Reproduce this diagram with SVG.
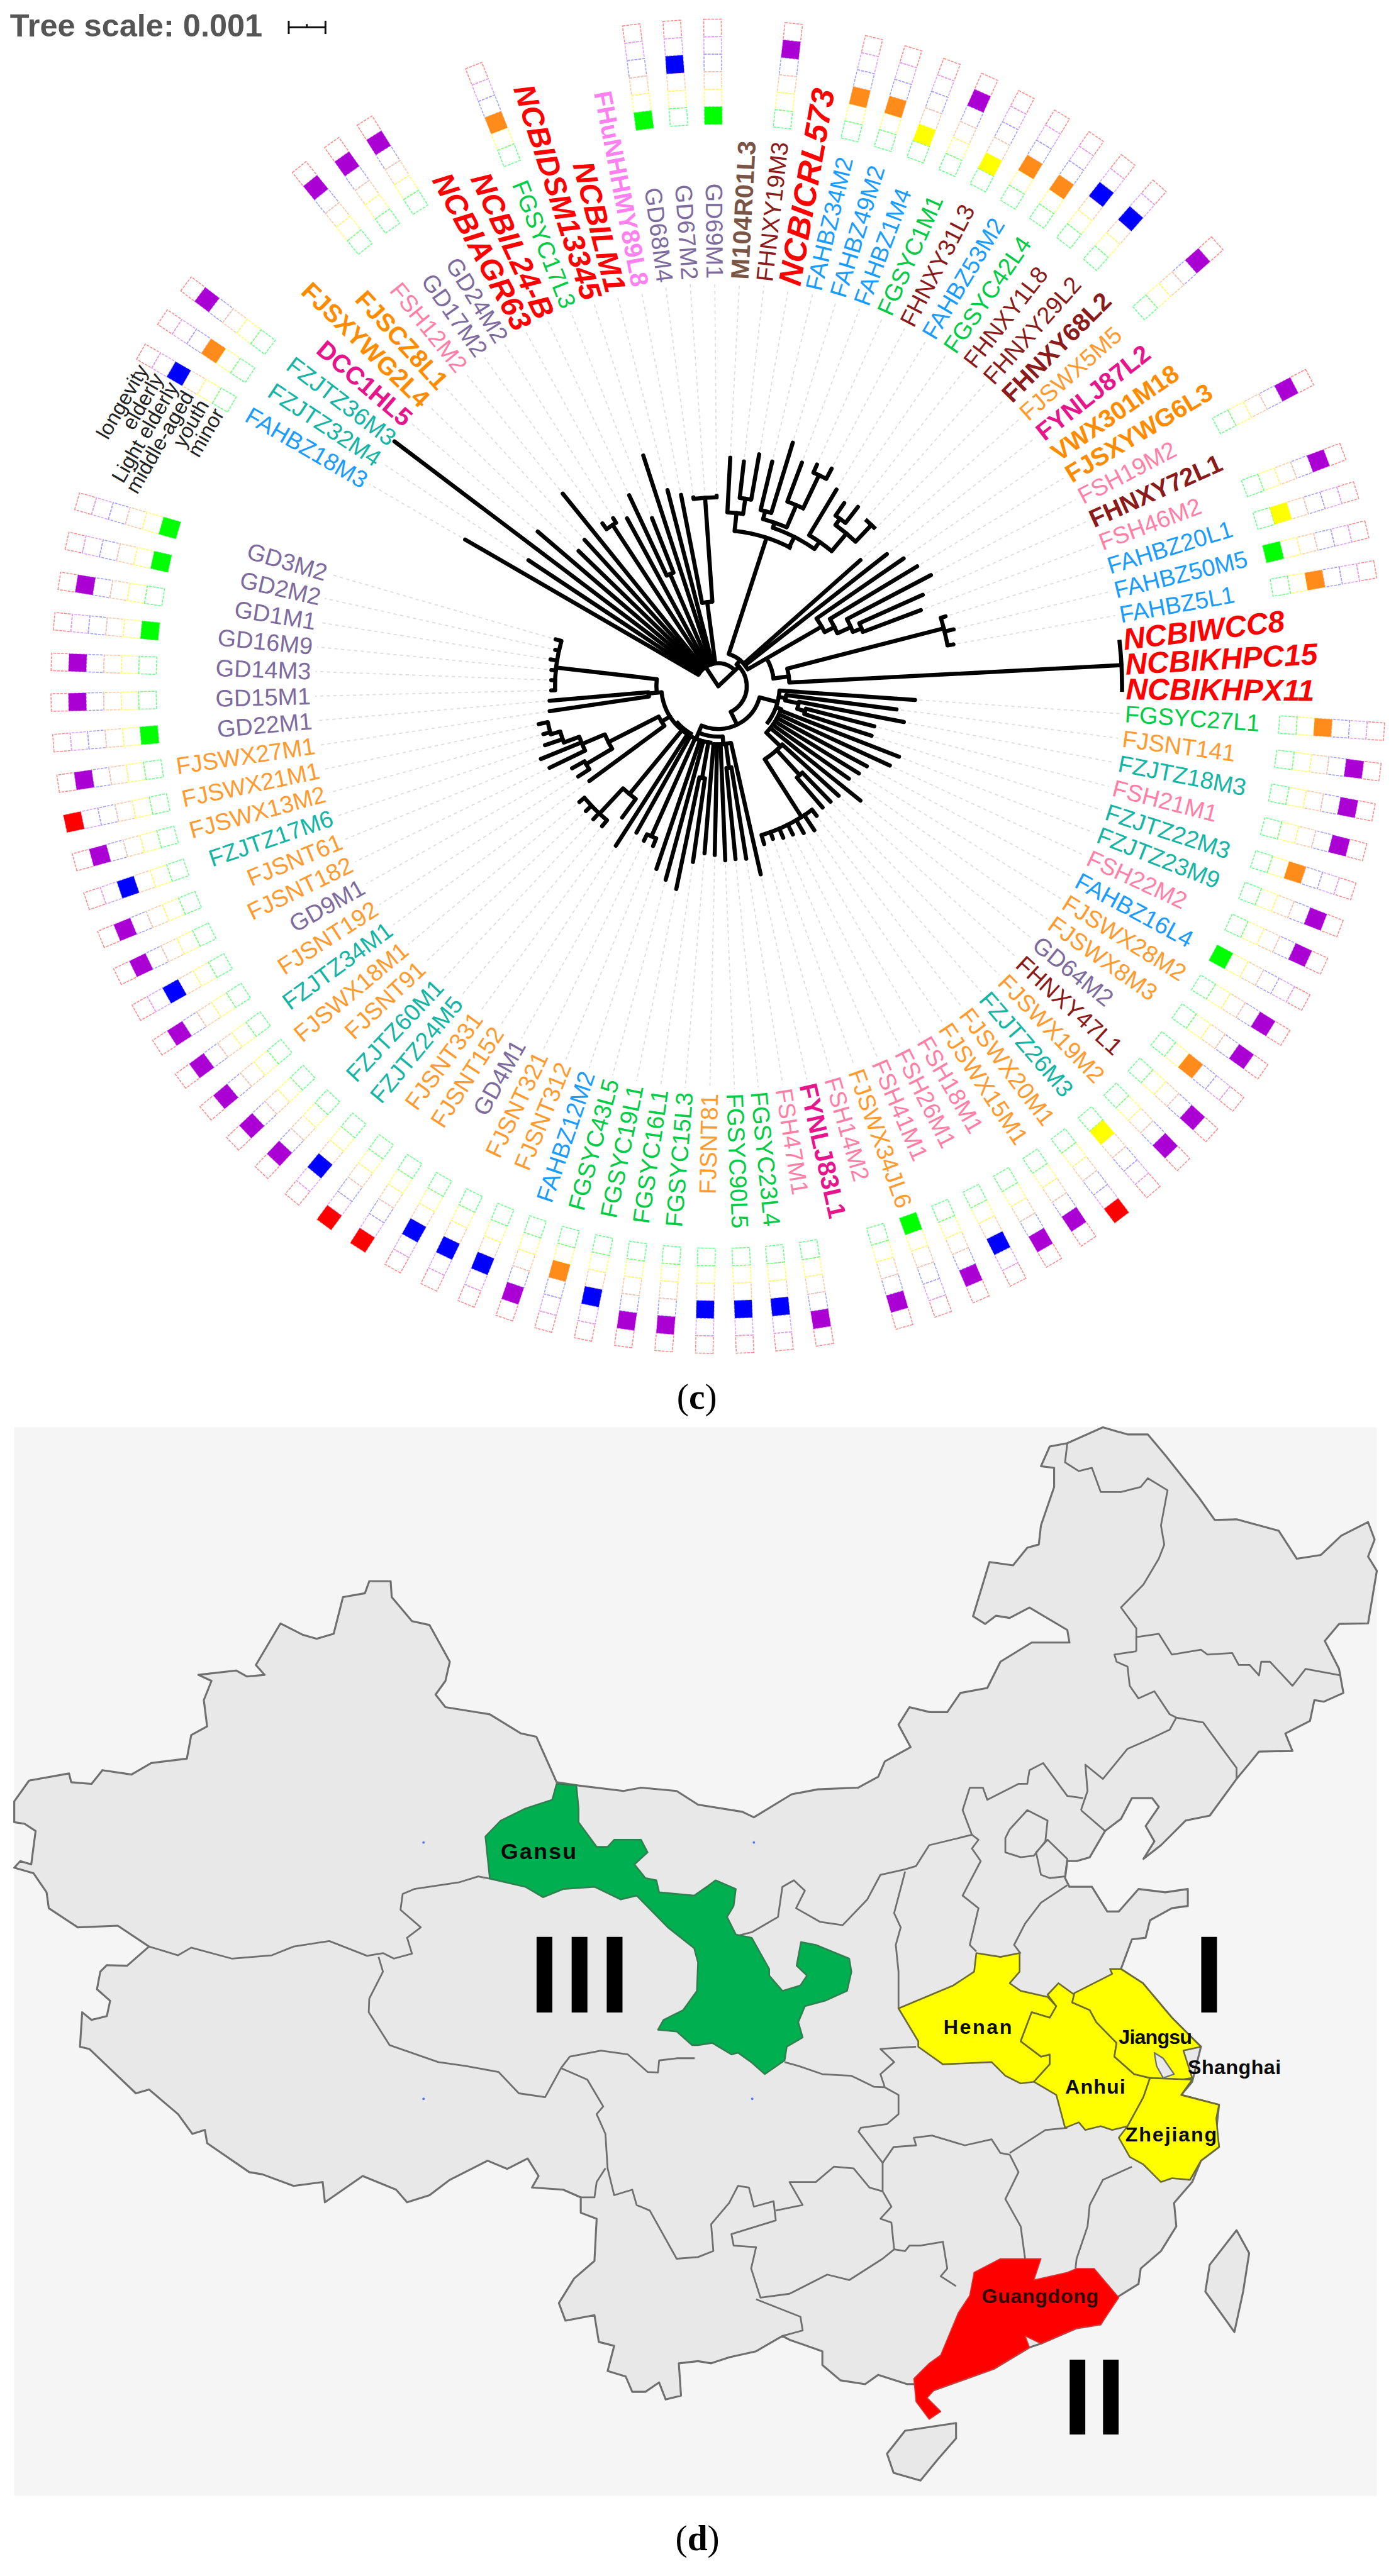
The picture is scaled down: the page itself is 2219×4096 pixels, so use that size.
<svg xmlns="http://www.w3.org/2000/svg" width="2219" height="4096" viewBox="0 0 2219 4096">
<style>
text{font-family:"Liberation Sans",Arial,sans-serif}
.lb text{font-size:43.5px;dominant-baseline:central}
.R{text-anchor:start}.L{text-anchor:end}
.g{fill:#7d6b9e}.o{fill:#ff9a2e}.t{fill:#14b5a5}.p{fill:#ff7fa6}.b{fill:#1a9cff}.n{fill:#00cc44}.d{fill:#8b1a1a}
.m{fill:#e6158c}.h{fill:#ff8c00}.f{fill:#ff80f0}.w{fill:#7a5545}
.lb text.B{font-weight:700;font-size:46px}
.lb text.N{font-weight:700;font-style:italic;font-size:55px;fill:#ff0000}
.lb text.leg{font-size:38px;fill:#222;text-anchor:end}
.c{fill:none;stroke-width:1.8;stroke-dasharray:5 2}
.c0{stroke:#66ff88}.c1{stroke:#ffff66}.c2{stroke:#ffc8a0}.c3{stroke:#a0a0ff}.c4{stroke:#e0a0ff}.c5{stroke:#ff8888}
.ray path{fill:none;stroke:#dcdcdc;stroke-width:2;stroke-dasharray:6 6}
.tree path,.tree circle{fill:none;stroke:#000;stroke-width:7.5;stroke-linecap:round;stroke-linejoin:round}
.tree circle{stroke-linecap:butt}
.prov{fill:#e8e8e8;stroke:#6f6f6f;stroke-width:3.6;stroke-linejoin:round}
.bd{fill:none;stroke:#6f6f6f;stroke-width:3.2;stroke-linejoin:round}
.yl{fill:#ffff00;stroke:#6b6b30;stroke-width:3;stroke-linejoin:round}
.pl{font-weight:700;font-size:37px;fill:#0a0a0a}
.num{font-weight:700;fill:#000}
.cap{font-family:"Liberation Serif","Times New Roman",serif;font-size:66px;fill:#000;text-anchor:middle}
</style>
<defs>
<g id="s">
<rect class="c c5" x="-16" y="-1218" width="32" height="32"/><rect class="c c4" x="-16" y="-1186" width="32" height="32"/><rect class="c c3" x="-16" y="-1154" width="32" height="32"/><rect class="c c2" x="-16" y="-1122" width="32" height="32"/><rect class="c c1" x="-16" y="-1090" width="32" height="32"/><rect class="c c0" x="-16" y="-1058" width="32" height="32"/>
</g>
<g id="s0"><use href="#s"/><rect x="-16" y="-1058" width="32" height="32" fill="#00ff00"/></g>
<g id="s1"><use href="#s"/><rect x="-16" y="-1090" width="32" height="32" fill="#ffff00"/></g>
<g id="s2"><use href="#s"/><rect x="-16" y="-1122" width="32" height="32" fill="#ff8c1a"/></g>
<g id="s3"><use href="#s"/><rect x="-16" y="-1154" width="32" height="32" fill="#0000ff"/></g>
<g id="s4"><use href="#s"/><rect x="-16" y="-1186" width="32" height="32" fill="#aa00d4"/></g>
<g id="s5"><use href="#s"/><rect x="-16" y="-1218" width="32" height="32" fill="#ff0000"/></g>
</defs>
<rect width="2219" height="4096" fill="#fff"/>
<g transform="scale(0.87088)">
<g id="scale">
<text x="18" y="67" font-size="58" font-weight="700" fill="#555">Tree scale: 0.001</text>
<path d="M527 38V62M594 38V62M527 50H594M560 44V50" fill="none" stroke="#111" stroke-width="3.4"/>
</g>
<g id="connectors" transform="translate(1311 1253)">
<g class="ray">
<path transform="rotate(-.5)" d="M0-356V-736"/><path transform="rotate(3)" d="M0-426V-736"/><path transform="rotate(6.5)" d="M0-421V-736"/><path transform="rotate(10)" d="M0-438V-736"/><path transform="rotate(13.5)" d="M0-430V-736"/><path transform="rotate(17)" d="M0-473V-736"/><path transform="rotate(20.5)" d="M0-444V-736"/><path transform="rotate(24)" d="M0-451V-736"/><path transform="rotate(27.5)" d="M0-456V-736"/><path transform="rotate(31)" d="M0-427V-736"/><path transform="rotate(34.5)" d="M0-414V-736"/><path transform="rotate(37.9)" d="M0-423V-736"/><path transform="rotate(41.4)" d="M0-417V-736"/><path transform="rotate(44.9)" d="M0-416V-736"/><path transform="rotate(48.4)" d="M0-355V-736"/><path transform="rotate(51.9)" d="M0-399V-736"/><path transform="rotate(55.4)" d="M0-419V-736"/><path transform="rotate(58.9)" d="M0-432V-736"/><path transform="rotate(62.4)" d="M0-446V-736"/><path transform="rotate(65.9)" d="M0-417V-736"/><path transform="rotate(69.4)" d="M0-403V-736"/><path transform="rotate(72.9)" d="M0-442V-736"/><path transform="rotate(76.4)" d="M0-450V-736"/><path transform="rotate(79.9)" d="M0-444V-736"/>
<path transform="rotate(93.9)" d="M0-368V-736"/><path transform="rotate(97.4)" d="M0-336V-736"/><path transform="rotate(100.9)" d="M0-353V-736"/><path transform="rotate(104.4)" d="M0-302V-736"/><path transform="rotate(107.9)" d="M0-302V-736"/><path transform="rotate(111.3)" d="M0-362V-736"/><path transform="rotate(114.8)" d="M0-353V-736"/><path transform="rotate(118.3)" d="M0-316V-736"/><path transform="rotate(121.8)" d="M0-310V-736"/><path transform="rotate(125.3)" d="M0-300V-736"/><path transform="rotate(128.8)" d="M0-341V-736"/><path transform="rotate(132.3)" d="M0-305V-736"/><path transform="rotate(135.8)" d="M0-302V-736"/><path transform="rotate(139.3)" d="M0-300V-736"/><path transform="rotate(142.8)" d="M0-305V-736"/><path transform="rotate(146.3)" d="M0-324V-736"/><path transform="rotate(149.8)" d="M0-318V-736"/><path transform="rotate(153.3)" d="M0-311V-736"/><path transform="rotate(156.8)" d="M0-309V-736"/><path transform="rotate(160.3)" d="M0-304V-736"/><path transform="rotate(163.8)" d="M0-308V-736"/><path transform="rotate(167.3)" d="M0-360V-736"/><path transform="rotate(170.8)" d="M0-327V-736"/><path transform="rotate(174.3)" d="M0-325V-736"/><path transform="rotate(177.7)" d="M0-326V-736"/><path transform="rotate(181.2)" d="M0-316V-736"/><path transform="rotate(184.7)" d="M0-314V-736"/><path transform="rotate(188.2)" d="M0-332V-736"/><path transform="rotate(191.7)" d="M0-386V-736"/><path transform="rotate(195.2)" d="M0-374V-736"/><path transform="rotate(198.7)" d="M0-360V-736"/><path transform="rotate(202.2)" d="M0-323V-736"/><path transform="rotate(205.7)" d="M0-321V-736"/><path transform="rotate(209.2)" d="M0-314V-736"/><path transform="rotate(212.7)" d="M0-354V-736"/><path transform="rotate(216.2)" d="M0-305V-736"/><path transform="rotate(219.7)" d="M0-340V-736"/><path transform="rotate(223.2)" d="M0-341V-736"/><path transform="rotate(226.7)" d="M0-340V-736"/><path transform="rotate(230.2)" d="M0-338V-736"/><path transform="rotate(233.7)" d="M0-300V-736"/><path transform="rotate(237.2)" d="M0-312V-736"/><path transform="rotate(240.7)" d="M0-314V-736"/><path transform="rotate(244.2)" d="M0-350V-736"/><path transform="rotate(247.7)" d="M0-358V-736"/><path transform="rotate(251.2)" d="M0-342V-736"/><path transform="rotate(254.7)" d="M0-339V-736"/><path transform="rotate(258.1)" d="M0-343V-736"/><path transform="rotate(261.6)" d="M0-319V-736"/><path transform="rotate(265.1)" d="M0-317V-736"/><path transform="rotate(268.6)" d="M0-313V-736"/><path transform="rotate(272.1)" d="M0-313V-736"/><path transform="rotate(275.6)" d="M0-314V-736"/><path transform="rotate(279.1)" d="M0-318V-736"/><path transform="rotate(282.6)" d="M0-313V-736"/><path transform="rotate(286.1)" d="M0-317V-736"/>
<path transform="rotate(300.1)" d="M0-542V-736"/><path transform="rotate(303.6)" d="M0-424V-736"/><path transform="rotate(310.6)" d="M0-442V-736"/><path transform="rotate(314.1)" d="M0-363V-736"/><path transform="rotate(317.6)" d="M0-370V-736"/><path transform="rotate(321.1)" d="M0-460V-736"/><path transform="rotate(324.6)" d="M0-373V-736"/><path transform="rotate(328)" d="M0-370V-736"/><path transform="rotate(331.5)" d="M0-357V-736"/><path transform="rotate(335)" d="M0-393V-736"/><path transform="rotate(338.5)" d="M0-338V-736"/><path transform="rotate(342)" d="M0-451V-736"/><path transform="rotate(345.5)" d="M0-378V-736"/><path transform="rotate(349)" d="M0-364V-736"/><path transform="rotate(352.5)" d="M0-356V-736"/><path transform="rotate(356)" d="M0-358V-736"/>
</g>
<g class="tree">
<path d="M0 0L-23-35M0 0L38-36"/>
<circle r="42" pathLength="360" stroke-dasharray="107 360" transform="rotate(210)"/>
<circle r="52" pathLength="360" stroke-dasharray="114 360" transform="rotate(-50)"/>
<circle r="62" pathLength="360" stroke-dasharray="42 360" transform="rotate(-72)"/>
<path transform="rotate(40)" d="M0-52V-62"/>
<path transform="rotate(18)" d="M0-62V-285"/>
<circle r="285" pathLength="360" stroke-dasharray="22 360" transform="rotate(-84)"/>
<path transform="rotate(6)" d="M0-285V-318"/>
<circle r="318" pathLength="360" stroke-dasharray="5.5 360" transform="rotate(-87)"/>
<path transform="rotate(3)" d="M0-318V-418"/><path transform="rotate(8.2)" d="M0-318V-346"/>
<circle r="346" pathLength="360" stroke-dasharray="3.5 360" transform="rotate(-83.5)"/>
<path transform="rotate(6.5)" d="M0-346V-413"/><path transform="rotate(10)" d="M0-346V-430"/>
<path transform="rotate(27)" d="M0-285V-306"/>
<circle r="306" pathLength="360" stroke-dasharray="16 360" transform="rotate(-71)"/>
<path transform="rotate(19)" d="M0-306V-316"/>
<circle r="316" pathLength="360" stroke-dasharray="8.5 360" transform="rotate(-75)"/>
<path transform="rotate(15)" d="M0-316V-331"/>
<circle r="331" pathLength="360" stroke-dasharray="3.5 360" transform="rotate(-76.5)"/>
<path transform="rotate(13.5)" d="M0-331V-422"/><path transform="rotate(17)" d="M0-331V-465"/>
<path transform="rotate(23.3)" d="M0-316V-360"/>
<circle r="360" pathLength="360" stroke-dasharray="5.5 360" transform="rotate(-69.5)"/>
<path transform="rotate(20.5)" d="M0-360V-436"/><path transform="rotate(25.5)" d="M0-360V-427"/>
<circle r="427" pathLength="360" stroke-dasharray="3.5 360" transform="rotate(-66)"/>
<path transform="rotate(24)" d="M0-427V-443"/><path transform="rotate(27.5)" d="M0-427V-448"/>
<path transform="rotate(35)" d="M0-306V-322"/>
<circle r="322" pathLength="360" stroke-dasharray="9 360" transform="rotate(-59)"/>
<path transform="rotate(31)" d="M0-322V-419"/><path transform="rotate(40)" d="M0-322V-364"/>
<circle r="364" pathLength="360" stroke-dasharray="7.7 360" transform="rotate(-54)"/>
<path transform="rotate(36)" d="M0-364V-378"/>
<circle r="378" pathLength="360" stroke-dasharray="3.4 360" transform="rotate(-55.5)"/>
<path transform="rotate(34.5)" d="M0-378V-406"/><path transform="rotate(37.9)" d="M0-378V-415"/>
<path transform="rotate(43.5)" d="M0-364V-406"/>
<circle r="406" pathLength="360" stroke-dasharray="3.6 360" transform="rotate(-48.6)"/>
<path transform="rotate(48.4)" d="M0-62V-347"/><path transform="rotate(51.9)" d="M0-62V-391"/>
<path transform="rotate(60)" d="M0-62V-218"/>
<circle r="102" pathLength="360" stroke-dasharray="24 360" transform="rotate(-30)"/>
<circle r="218" pathLength="360" stroke-dasharray="7.6 360" transform="rotate(-34.6)"/>
<path transform="rotate(55.4)" d="M0-218V-411"/><path transform="rotate(63)" d="M0-218V-238"/>
<circle r="238" pathLength="360" stroke-dasharray="7 360" transform="rotate(-31)"/>
<path transform="rotate(58.9)" d="M0-238V-424"/><path transform="rotate(66)" d="M0-238V-265"/>
<circle r="265" pathLength="360" stroke-dasharray="5.6 360" transform="rotate(-27.6)"/>
<path transform="rotate(62.4)" d="M0-265V-438"/><path transform="rotate(68)" d="M0-265V-282"/>
<circle r="282" pathLength="360" stroke-dasharray="3.5 360" transform="rotate(-24.1)"/>
<path transform="rotate(65.9)" d="M0-282V-409"/><path transform="rotate(69.4)" d="M0-282V-395"/>
<path transform="rotate(82)" d="M0-102V-130"/>
<circle r="130" pathLength="360" stroke-dasharray="11.4 360" transform="rotate(-14.4)"/>
<path transform="rotate(75.6)" d="M0-130V-425"/>
<circle r="425" pathLength="360" stroke-dasharray="7 360" transform="rotate(-17.1)"/>
<path transform="rotate(72.9)" d="M0-425V-434"/><path transform="rotate(76.4)" d="M0-425V-442"/><path transform="rotate(79.9)" d="M0-425V-436"/>
<path transform="rotate(87)" d="M0-130V-737"/>
<circle r="737" pathLength="360" stroke-dasharray="7.4 360" transform="rotate(-6.6)"/>
<path transform="rotate(154)" d="M0-52V-78"/>
<circle r="78" pathLength="360" stroke-dasharray="98 360" transform="rotate(15)"/>
<path transform="rotate(105)" d="M0-78V-112"/>
<circle r="112" pathLength="360" stroke-dasharray="34 360" transform="rotate(4)"/>
<path transform="rotate(94)" d="M0-112V-360"/>
<path transform="rotate(100)" d="M0-112V-125"/>
<circle r="125" pathLength="360" stroke-dasharray="4.6 360" transform="rotate(7.4)"/>
<path transform="rotate(97.4)" d="M0-125V-328"/><path transform="rotate(102)" d="M0-125V-150"/>
<circle r="150" pathLength="360" stroke-dasharray="5.1 360" transform="rotate(10.9)"/>
<path transform="rotate(100.9)" d="M0-150V-345"/><path transform="rotate(106)" d="M0-150V-165"/>
<circle r="165" pathLength="360" stroke-dasharray="3.5 360" transform="rotate(14.4)"/>
<path transform="rotate(104.4)" d="M0-165V-294"/><path transform="rotate(107.9)" d="M0-165V-294"/>
<path transform="rotate(110)" d="M0-112V-122"/>
<circle r="122" pathLength="360" stroke-dasharray="24 360" transform="rotate(20)"/>
<path transform="rotate(111.3)" d="M0-122V-354"/><path transform="rotate(114.8)" d="M0-122V-345"/><path transform="rotate(118.3)" d="M0-122V-308"/><path transform="rotate(121.8)" d="M0-122V-302"/><path transform="rotate(125.3)" d="M0-122V-292"/><path transform="rotate(128.8)" d="M0-122V-333"/>
<path transform="rotate(134)" d="M0-122V-158"/>
<circle r="158" pathLength="360" stroke-dasharray="15.2 360" transform="rotate(42.3)"/>
<path transform="rotate(132.3)" d="M0-158V-297"/>
<path transform="rotate(137.5)" d="M0-158V-220"/>
<circle r="220" pathLength="360" stroke-dasharray="3.5 360" transform="rotate(45.8)"/>
<path transform="rotate(135.8)" d="M0-220V-294"/><path transform="rotate(139.3)" d="M0-220V-292"/>
<path transform="rotate(147.5)" d="M0-158V-283"/>
<circle r="283" pathLength="360" stroke-dasharray="21 360" transform="rotate(52.8)"/>
<path transform="rotate(142.8)" d="M0-283V-297"/><path transform="rotate(146.3)" d="M0-283V-316"/><path transform="rotate(149.8)" d="M0-283V-310"/><path transform="rotate(153.3)" d="M0-283V-303"/><path transform="rotate(156.8)" d="M0-283V-301"/><path transform="rotate(160.3)" d="M0-283V-296"/><path transform="rotate(163.8)" d="M0-283V-300"/>
<path transform="rotate(203)" d="M0-78V-104"/>
<circle r="92" pathLength="360" stroke-dasharray="28 360" transform="rotate(85)"/>
<path transform="rotate(175)" d="M0-92V-106"/>
<circle r="106" pathLength="360" stroke-dasharray="18 360" transform="rotate(77.3)"/>
<path transform="rotate(167.3)" d="M0-106V-352"/>
<path transform="rotate(172.5)" d="M0-106V-150"/>
<circle r="150" pathLength="360" stroke-dasharray="3.5 360" transform="rotate(80.8)"/>
<path transform="rotate(170.8)" d="M0-150V-319"/><path transform="rotate(174.3)" d="M0-150V-317"/>
<path transform="rotate(177.7)" d="M0-106V-318"/><path transform="rotate(181.2)" d="M0-106V-308"/><path transform="rotate(184.7)" d="M0-106V-306"/>
<circle r="104" pathLength="360" stroke-dasharray="78 360" transform="rotate(96)"/>
<circle r="100" pathLength="360" stroke-dasharray="22 360" transform="rotate(118)"/>
<path transform="rotate(190)" d="M0-104V-170"/>
<circle r="170" pathLength="360" stroke-dasharray="3.5 360" transform="rotate(98.2)"/>
<path transform="rotate(188.2)" d="M0-170V-324"/><path transform="rotate(191.7)" d="M0-170V-378"/>
<path transform="rotate(195.2)" d="M0-104V-366"/><path transform="rotate(198.7)" d="M0-104V-352"/>
<path transform="rotate(204)" d="M0-104V-300"/>
<circle r="300" pathLength="360" stroke-dasharray="3.5 360" transform="rotate(112.2)"/>
<path transform="rotate(202.2)" d="M0-300V-315"/><path transform="rotate(205.7)" d="M0-300V-313"/>
<path transform="rotate(209.2)" d="M0-104V-306"/><path transform="rotate(212.7)" d="M0-104V-346"/>
<path transform="rotate(219.5)" d="M0-104V-255"/>
<circle r="255" pathLength="360" stroke-dasharray="6.8 360" transform="rotate(126.2)"/>
<path transform="rotate(216.2)" d="M0-255V-297"/><path transform="rotate(223)" d="M0-255V-318"/>
<circle r="318" pathLength="360" stroke-dasharray="10.5 360" transform="rotate(129.7)"/>
<path transform="rotate(219.7)" d="M0-318V-332"/><path transform="rotate(223.2)" d="M0-318V-333"/><path transform="rotate(226.7)" d="M0-318V-332"/><path transform="rotate(230.2)" d="M0-318V-330"/>
<path transform="rotate(238)" d="M0-104V-122"/>
<circle r="122" pathLength="360" stroke-dasharray="9.3 360" transform="rotate(143.7)"/>
<path transform="rotate(233.7)" d="M0-122V-292"/>
<path transform="rotate(243)" d="M0-122V-225"/>
<circle r="225" pathLength="360" stroke-dasharray="8 360" transform="rotate(149)"/>
<path transform="rotate(239.5)" d="M0-225V-280"/>
<circle r="280" pathLength="360" stroke-dasharray="3.5 360" transform="rotate(147.2)"/>
<path transform="rotate(237.2)" d="M0-280V-304"/><path transform="rotate(240.7)" d="M0-280V-306"/>
<path transform="rotate(247)" d="M0-225V-270"/>
<circle r="270" pathLength="360" stroke-dasharray="5.8 360" transform="rotate(154.2)"/>
<path transform="rotate(244.2)" d="M0-270V-342"/><path transform="rotate(247.7)" d="M0-270V-350"/>
<path transform="rotate(250)" d="M0-270V-300"/>
<circle r="300" pathLength="360" stroke-dasharray="4 360" transform="rotate(160)"/>
<path transform="rotate(251.2)" d="M0-300V-334"/><path transform="rotate(254)" d="M0-300V-318"/>
<circle r="318" pathLength="360" stroke-dasharray="3.4 360" transform="rotate(164.7)"/>
<path transform="rotate(254.7)" d="M0-318V-331"/><path transform="rotate(258.1)" d="M0-318V-335"/>
<path transform="rotate(264)" d="M0-104V-128"/>
<circle r="128" pathLength="360" stroke-dasharray="3.5 360" transform="rotate(171.6)"/>
<path transform="rotate(261.6)" d="M0-128V-311"/><path transform="rotate(265.1)" d="M0-128V-309"/>
<circle r="113" pathLength="360" stroke-dasharray="13 360" transform="rotate(174)"/>
<path transform="rotate(276.6)" d="M0-113V-298"/>
<circle r="298" pathLength="360" stroke-dasharray="17.5 360" transform="rotate(178.6)"/>
<path transform="rotate(268.6)" d="M0-298V-305"/><path transform="rotate(272.1)" d="M0-298V-305"/><path transform="rotate(275.6)" d="M0-298V-306"/><path transform="rotate(279.1)" d="M0-298V-310"/><path transform="rotate(282.6)" d="M0-298V-305"/><path transform="rotate(286.1)" d="M0-298V-309"/>
<path transform="rotate(300.1)" d="M0-42V-534"/><path transform="rotate(303.6)" d="M0-42V-416"/><path transform="rotate(307.1)" d="M0-42V-741"/><path transform="rotate(310.6)" d="M0-42V-434"/><path transform="rotate(314.1)" d="M0-42V-355"/><path transform="rotate(317.6)" d="M0-42V-362"/><path transform="rotate(321.1)" d="M0-42V-452"/>
<path transform="rotate(326.8)" d="M0-42V-352"/>
<circle r="352" pathLength="360" stroke-dasharray="3.4 360" transform="rotate(234.6)"/>
<path transform="rotate(324.6)" d="M0-352V-365"/><path transform="rotate(328)" d="M0-352V-362"/>
<path transform="rotate(331.5)" d="M0-42V-349"/>
<path transform="rotate(336.8)" d="M0-42V-223"/>
<circle r="223" pathLength="360" stroke-dasharray="3.5 360" transform="rotate(245)"/>
<path transform="rotate(335)" d="M0-223V-385"/><path transform="rotate(338.5)" d="M0-223V-330"/>
<path transform="rotate(342)" d="M0-42V-443"/><path transform="rotate(345.5)" d="M0-42V-370"/>
<path transform="rotate(352.5)" d="M0-42V-155"/>
<circle r="155" pathLength="360" stroke-dasharray="7.5 360" transform="rotate(259)"/>
<path transform="rotate(349)" d="M0-155V-356"/><path transform="rotate(356)" d="M0-155V-345"/>
<circle r="345" pathLength="360" stroke-dasharray="7 360" transform="rotate(262.5)"/>
<path transform="rotate(352.5)" d="M0-345V-348"/><path transform="rotate(359.5)" d="M0-345V-348"/>
</g>
</g>
<g id="leaves" class="lb" transform="translate(1311 1253)">
<g id="leaf-GD69M1" transform="rotate(-.5)"><text class="L g" x="-744" transform="rotate(90)">GD69M1</text><use href="#s0"/></g>
<g id="leaf-M104R01L3" transform="rotate(3)"><text class="R w B" x="744" transform="rotate(-90)">M104R01L3</text></g>
<g id="leaf-FHNXY19M3" transform="rotate(6.5)"><text class="R d" x="744" transform="rotate(-90)">FHNXY19M3</text><use href="#s4"/></g>
<g id="leaf-NCBICRL573" transform="rotate(10)"><text class="R N" x="744" transform="rotate(-90)" style="font-size:59px">NCBICRL573</text></g>
<g id="leaf-FAHBZ34M2" transform="rotate(13.5)"><text class="R b" x="744" transform="rotate(-90)">FAHBZ34M2</text><use href="#s2"/></g>
<g id="leaf-FAHBZ49M2" transform="rotate(17)"><text class="R b" x="744" transform="rotate(-90)">FAHBZ49M2</text><use href="#s2"/></g>
<g id="leaf-FAHBZ1M4" transform="rotate(20.5)"><text class="R b" x="744" transform="rotate(-90)">FAHBZ1M4</text><use href="#s1"/></g>
<g id="leaf-FGSYC1M1" transform="rotate(24)"><text class="R n" x="744" transform="rotate(-90)">FGSYC1M1</text><use href="#s4"/></g>
<g id="leaf-FHNXY31L3" transform="rotate(27.5)"><text class="R d" x="744" transform="rotate(-90)">FHNXY31L3</text><use href="#s1"/></g>
<g id="leaf-FAHBZ53M2" transform="rotate(31)"><text class="R b" x="744" transform="rotate(-90)">FAHBZ53M2</text><use href="#s2"/></g>
<g id="leaf-FGSYC42L4" transform="rotate(34.5)"><text class="R n" x="744" transform="rotate(-90)">FGSYC42L4</text><use href="#s2"/></g>
<g id="leaf-FHNXY1L8" transform="rotate(37.9)"><text class="R d" x="744" transform="rotate(-90)">FHNXY1L8</text><use href="#s3"/></g>
<g id="leaf-FHNXY29L2" transform="rotate(41.4)"><text class="R d" x="744" transform="rotate(-90)">FHNXY29L2</text><use href="#s3"/></g>
<g id="leaf-FHNXY68L2" transform="rotate(44.9)"><text class="R d B" x="744" transform="rotate(-90)">FHNXY68L2</text></g>
<g id="leaf-FJSWX5M5" transform="rotate(48.4)"><text class="R o" x="744" transform="rotate(-90)">FJSWX5M5</text><use href="#s4"/></g>
<g id="leaf-FYNLJ87L2" transform="rotate(51.9)"><text class="R m B" x="744" transform="rotate(-90)">FYNLJ87L2</text></g>
<g id="leaf-VWX301M18" transform="rotate(55.4)"><text class="R h B" x="744" transform="rotate(-90)">VWX301M18</text></g>
<g id="leaf-FJSXYWG6L3" transform="rotate(58.9)"><text class="R h B" x="744" transform="rotate(-90)">FJSXYWG6L3</text></g>
<g id="leaf-FSH19M2" transform="rotate(62.4)"><text class="R p" x="744" transform="rotate(-90)">FSH19M2</text><use href="#s4"/></g>
<g id="leaf-FHNXY72L1" transform="rotate(65.9)"><text class="R d B" x="744" transform="rotate(-90)">FHNXY72L1</text></g>
<g id="leaf-FSH46M2" transform="rotate(69.4)"><text class="R p" x="744" transform="rotate(-90)">FSH46M2</text><use href="#s4"/></g>
<g id="leaf-FAHBZ20L1" transform="rotate(72.9)"><text class="R b" x="744" transform="rotate(-90)">FAHBZ20L1</text><use href="#s1"/></g>
<g id="leaf-FAHBZ50M5" transform="rotate(76.4)"><text class="R b" x="744" transform="rotate(-90)">FAHBZ50M5</text><use href="#s0"/></g>
<g id="leaf-FAHBZ5L1" transform="rotate(79.9)"><text class="R b" x="744" transform="rotate(-90)">FAHBZ5L1</text><use href="#s2"/></g>
<g id="leaf-NCBIWCC8" transform="rotate(83.4)"><text class="R N" x="744" transform="rotate(-90)">NCBIWCC8</text></g>
<g id="leaf-NCBIKHPC15" transform="rotate(86.9)"><text class="R N" x="744" transform="rotate(-90)">NCBIKHPC15</text></g>
<g id="leaf-NCBIKHPX11" transform="rotate(90.4)"><text class="R N" x="744" transform="rotate(-90)">NCBIKHPX11</text></g>
<g id="leaf-FGSYC27L1" transform="rotate(93.9)"><text class="R n" x="744" transform="rotate(-90)">FGSYC27L1</text><use href="#s2"/></g>
<g id="leaf-FJSNT141" transform="rotate(97.4)"><text class="R o" x="744" transform="rotate(-90)">FJSNT141</text><use href="#s4"/></g>
<g id="leaf-FZJTZ18M3" transform="rotate(100.9)"><text class="R t" x="744" transform="rotate(-90)">FZJTZ18M3</text><use href="#s4"/></g>
<g id="leaf-FSH21M1" transform="rotate(104.4)"><text class="R p" x="744" transform="rotate(-90)">FSH21M1</text><use href="#s4"/></g>
<g id="leaf-FZJTZ22M3" transform="rotate(107.9)"><text class="R t" x="744" transform="rotate(-90)">FZJTZ22M3</text><use href="#s2"/></g>
<g id="leaf-FZJTZ23M9" transform="rotate(111.3)"><text class="R t" x="744" transform="rotate(-90)">FZJTZ23M9</text><use href="#s4"/></g>
<g id="leaf-FSH22M2" transform="rotate(114.8)"><text class="R p" x="744" transform="rotate(-90)">FSH22M2</text><use href="#s4"/></g>
<g id="leaf-FAHBZ16L4" transform="rotate(118.3)"><text class="R b" x="744" transform="rotate(-90)">FAHBZ16L4</text><use href="#s0"/></g>
<g id="leaf-FJSWX28M2" transform="rotate(121.8)"><text class="R o" x="744" transform="rotate(-90)">FJSWX28M2</text><use href="#s4"/></g>
<g id="leaf-FJSWX8M3" transform="rotate(125.3)"><text class="R o" x="744" transform="rotate(-90)">FJSWX8M3</text><use href="#s4"/></g>
<g id="leaf-GD64M2" transform="rotate(128.8)"><text class="R g" x="744" transform="rotate(-90)">GD64M2</text><use href="#s2"/></g>
<g id="leaf-FHNXY47L1" transform="rotate(132.3)"><text class="R d" x="744" transform="rotate(-90)">FHNXY47L1</text><use href="#s4"/></g>
<g id="leaf-FJSWX19M2" transform="rotate(135.8)"><text class="R o" x="744" transform="rotate(-90)">FJSWX19M2</text><use href="#s4"/></g>
<g id="leaf-FZJTZ26M3" transform="rotate(139.3)"><text class="R t" x="744" transform="rotate(-90)">FZJTZ26M3</text><use href="#s1"/></g>
<g id="leaf-FJSWX20M1" transform="rotate(142.8)"><text class="R o" x="744" transform="rotate(-90)">FJSWX20M1</text><use href="#s5"/></g>
<g id="leaf-FJSWX15M1" transform="rotate(146.3)"><text class="R o" x="744" transform="rotate(-90)">FJSWX15M1</text><use href="#s4"/></g>
<g id="leaf-FSH18M1" transform="rotate(149.8)"><text class="R p" x="744" transform="rotate(-90)">FSH18M1</text><use href="#s4"/></g>
<g id="leaf-FSH26M1" transform="rotate(153.3)"><text class="R p" x="744" transform="rotate(-90)">FSH26M1</text><use href="#s3"/></g>
<g id="leaf-FSH41M1" transform="rotate(156.8)"><text class="R p" x="744" transform="rotate(-90)">FSH41M1</text><use href="#s4"/></g>
<g id="leaf-FJSWX34JL6" transform="rotate(160.3)"><text class="R o" x="744" transform="rotate(-90)">FJSWX34JL6</text><use href="#s0"/></g>
<g id="leaf-FSH14M2" transform="rotate(163.8)"><text class="R p" x="744" transform="rotate(-90)">FSH14M2</text><use href="#s4"/></g>
<g id="leaf-FYNLJ83L1" transform="rotate(167.3)"><text class="R m B" x="744" transform="rotate(-90)">FYNLJ83L1</text></g>
<g id="leaf-FSH47M1" transform="rotate(170.8)"><text class="R p" x="744" transform="rotate(-90)">FSH47M1</text><use href="#s4"/></g>
<g id="leaf-FGSYC23L4" transform="rotate(174.3)"><text class="R n" x="744" transform="rotate(-90)">FGSYC23L4</text><use href="#s3"/></g>
<g id="leaf-FGSYC90L5" transform="rotate(177.7)"><text class="R n" x="744" transform="rotate(-90)">FGSYC90L5</text><use href="#s3"/></g>
<g id="leaf-FJSNT81" transform="rotate(181.2)"><text class="L o" x="-744" transform="rotate(90)">FJSNT81</text><use href="#s3"/></g>
<g id="leaf-FGSYC15L3" transform="rotate(184.7)"><text class="L n" x="-744" transform="rotate(90)">FGSYC15L3</text><use href="#s4"/></g>
<g id="leaf-FGSYC16L1" transform="rotate(188.2)"><text class="L n" x="-744" transform="rotate(90)">FGSYC16L1</text><use href="#s4"/></g>
<g id="leaf-FGSYC19L1" transform="rotate(191.7)"><text class="L n" x="-744" transform="rotate(90)">FGSYC19L1</text><use href="#s3"/></g>
<g id="leaf-FGSYC43L5" transform="rotate(195.2)"><text class="L n" x="-744" transform="rotate(90)">FGSYC43L5</text><use href="#s2"/></g>
<g id="leaf-FAHBZ12M2" transform="rotate(198.7)"><text class="L b" x="-744" transform="rotate(90)">FAHBZ12M2</text><use href="#s4"/></g>
<g id="leaf-FJSNT312" transform="rotate(202.2)"><text class="L o" x="-744" transform="rotate(90)">FJSNT312</text><use href="#s3"/></g>
<g id="leaf-FJSNT321" transform="rotate(205.7)"><text class="L o" x="-744" transform="rotate(90)">FJSNT321</text><use href="#s3"/></g>
<g id="leaf-GD4M1" transform="rotate(209.2)"><text class="L g" x="-744" transform="rotate(90)">GD4M1</text><use href="#s3"/></g>
<g id="leaf-FJSNT152" transform="rotate(212.7)"><text class="L o" x="-744" transform="rotate(90)">FJSNT152</text><use href="#s5"/></g>
<g id="leaf-FJSNT331" transform="rotate(216.2)"><text class="L o" x="-744" transform="rotate(90)">FJSNT331</text><use href="#s5"/></g>
<g id="leaf-FZJTZ24M5" transform="rotate(219.7)"><text class="L t" x="-744" transform="rotate(90)">FZJTZ24M5</text><use href="#s3"/></g>
<g id="leaf-FZJTZ60M1" transform="rotate(223.2)"><text class="L t" x="-744" transform="rotate(90)">FZJTZ60M1</text><use href="#s4"/></g>
<g id="leaf-FJSNT91" transform="rotate(226.7)"><text class="L o" x="-744" transform="rotate(90)">FJSNT91</text><use href="#s4"/></g>
<g id="leaf-FJSWX18M1" transform="rotate(230.2)"><text class="L o" x="-744" transform="rotate(90)">FJSWX18M1</text><use href="#s4"/></g>
<g id="leaf-FZJTZ34M1" transform="rotate(233.7)"><text class="L t" x="-744" transform="rotate(90)">FZJTZ34M1</text><use href="#s4"/></g>
<g id="leaf-FJSNT192" transform="rotate(237.2)"><text class="L o" x="-744" transform="rotate(90)">FJSNT192</text><use href="#s4"/></g>
<g id="leaf-GD9M1" transform="rotate(240.7)"><text class="L g" x="-744" transform="rotate(90)">GD9M1</text><use href="#s3"/></g>
<g id="leaf-FJSNT182" transform="rotate(244.2)"><text class="L o" x="-744" transform="rotate(90)">FJSNT182</text><use href="#s4"/></g>
<g id="leaf-FJSNT61" transform="rotate(247.7)"><text class="L o" x="-744" transform="rotate(90)">FJSNT61</text><use href="#s4"/></g>
<g id="leaf-FZJTZ17M6" transform="rotate(251.2)"><text class="L t" x="-744" transform="rotate(90)">FZJTZ17M6</text><use href="#s3"/></g>
<g id="leaf-FJSWX13M2" transform="rotate(254.7)"><text class="L o" x="-744" transform="rotate(90)">FJSWX13M2</text><use href="#s4"/></g>
<g id="leaf-FJSWX21M1" transform="rotate(258.1)"><text class="L o" x="-744" transform="rotate(90)">FJSWX21M1</text><use href="#s5"/></g>
<g id="leaf-FJSWX27M1" transform="rotate(261.6)"><text class="L o" x="-744" transform="rotate(90)">FJSWX27M1</text><use href="#s4"/></g>
<g id="leaf-GD22M1" transform="rotate(265.1)"><text class="L g" x="-744" transform="rotate(90)">GD22M1</text><use href="#s0"/></g>
<g id="leaf-GD15M1" transform="rotate(268.6)"><text class="L g" x="-744" transform="rotate(90)">GD15M1</text><use href="#s4"/></g>
<g id="leaf-GD14M3" transform="rotate(272.1)"><text class="L g" x="-744" transform="rotate(90)">GD14M3</text><use href="#s4"/></g>
<g id="leaf-GD16M9" transform="rotate(275.6)"><text class="L g" x="-744" transform="rotate(90)">GD16M9</text><use href="#s0"/></g>
<g id="leaf-GD1M1" transform="rotate(279.1)"><text class="L g" x="-744" transform="rotate(90)">GD1M1</text><use href="#s4"/></g>
<g id="leaf-GD2M2" transform="rotate(282.6)"><text class="L g" x="-744" transform="rotate(90)">GD2M2</text><use href="#s0"/></g>
<g id="leaf-GD3M2" transform="rotate(286.1)"><text class="L g" x="-744" transform="rotate(90)">GD3M2</text><use href="#s0"/></g>
<g id="leaf-FAHBZ18M3" transform="rotate(300.1)"><text class="L b" x="-744" transform="rotate(90)">FAHBZ18M3</text><use href="#s3"/>
<text class="leg" x="-21" y="-1202">longevity</text><text class="leg" x="-21" y="-1170">elderly</text><text class="leg" x="-21" y="-1138">Light elderly</text><text class="leg" x="-21" y="-1106">middle-aged</text><text class="leg" x="-21" y="-1074">youth</text><text class="leg" x="-21" y="-1042">minor</text></g>
<g id="leaf-FZJTZ32M4" transform="rotate(303.6)"><text class="L t" x="-744" transform="rotate(90)">FZJTZ32M4</text><use href="#s2"/></g>
<g id="leaf-FZJTZ36M3" transform="rotate(307.1)"><text class="L t" x="-744" transform="rotate(90)">FZJTZ36M3</text><use href="#s4"/></g>
<g id="leaf-DCC1HL5" transform="rotate(310.6)"><text class="L m B" x="-744" transform="rotate(90)">DCC1HL5</text></g>
<g id="leaf-FJSXYWG2L4" transform="rotate(314.1)"><text class="L h B" x="-744" transform="rotate(90)">FJSXYWG2L4</text></g>
<g id="leaf-FJSCZ8L1" transform="rotate(317.6)"><text class="L h B" x="-744" transform="rotate(90)">FJSCZ8L1</text></g>
<g id="leaf-FSH12M2" transform="rotate(321.1)"><text class="L p" x="-744" transform="rotate(90)">FSH12M2</text><use href="#s4"/></g>
<g id="leaf-GD17M2" transform="rotate(324.6)"><text class="L g" x="-744" transform="rotate(90)">GD17M2</text><use href="#s4"/></g>
<g id="leaf-GD24M2" transform="rotate(328)"><text class="L g" x="-744" transform="rotate(90)">GD24M2</text><use href="#s4"/></g>
<g id="leaf-NCBIAGR63" transform="rotate(331.5)"><text class="L N" x="-744" transform="rotate(90)">NCBIAGR63</text></g>
<g id="leaf-NCBIL24-B" transform="rotate(335)"><text class="L N" x="-744" transform="rotate(90)">NCBIL24-B</text></g>
<g id="leaf-FGSYC17L3" transform="rotate(338.5)"><text class="L n" x="-744" transform="rotate(90)">FGSYC17L3</text><use href="#s2"/></g>
<g id="leaf-NCBIDSM13345" transform="rotate(342)"><text class="L N" x="-744" transform="rotate(90)">NCBIDSM13345</text></g>
<g id="leaf-NCBILM1" transform="rotate(345.5)"><text class="L N" x="-744" transform="rotate(90)">NCBILM1</text></g>
<g id="leaf-FHuNHHMY89L8" transform="rotate(349)"><text class="L f B" x="-744" transform="rotate(90)">FHuNHHMY89L8</text></g>
<g id="leaf-GD68M4" transform="rotate(352.5)"><text class="L g" x="-744" transform="rotate(90)">GD68M4</text><use href="#s0"/></g>
<g id="leaf-GD67M2" transform="rotate(356)"><text class="L g" x="-744" transform="rotate(90)">GD67M2</text><use href="#s3"/></g>
</g>
<text id="caption-c" class="cap" x="1272" y="2572">(<tspan font-weight="700">c</tspan>)</text>
<g id="map">
<rect x="26" y="2606" width="2487" height="1951" fill="#f5f5f5"/>
<path id="china" class="prov" d="M26 3289L53 3251 126 3238 130 3254 167 3257 187 3232 240 3240 276 3219 341 3211 349 3168 378 3152 372 3104 386 3069 362 3058 431 3050 451 3061 483 3058 467 3040 512 2964 553 2985 578 2992 609 2983 626 2916 666 2909 674 2887 713 2887 715 2916 752 2960 784 2967 821 3034 813 3069 795 3094 813 3117 894 3130 951 3165 979 3171 1016 3254 1056 3260 1138 3270 1170 3264 1235 3270 1274 3295 1355 3308 1376 3318 1445 3276 1493 3267 1566 3264 1603 3244 1615 3216 1662 3190 1640 3149 1660 3117 1697 3126 1729 3126 1753 3091 1802 3082 1826 3034 1883 2999 1952 2999 1948 2976 1879 2935 1843 2954 1818 2950 1798 2965 1776 2951 1806 2852 1849 2858 1875 2826 1896 2820 1900 2785 1924 2715 1924 2680 1900 2677 1916 2641 1948 2635 2013 2606 2058 2619 2095 2619 2127 2657 2188 2734 2217 2775 2257 2774 2334 2795 2367 2846 2411 2839 2448 2804 2497 2779 2509 2811 2497 2842 2513 2868 2497 2964 2444 2965 2418 2996 2444 3047 2452 3091 2416 3107 2399 3104 2391 3142 2346 3165 2359 3197 2298 3198 2281 3219 2257 3248 2208 3315 2164 3324 2119 3369 2087 3394 2107 3362 2091 3334 2115 3299 2103 3283 2066 3283 2046 3321 2017 3343 1989 3391 1965 3398 1948 3398 1944 3429 1952 3445 1993 3445 2021 3490 2042 3490 2078 3449 2127 3455 2168 3449 2168 3480 2139 3484 2099 3506 2091 3538 2066 3541 2046 3595 2086 3621 2139 3684 2192 3737 2176 3801 2156 3825 2225 3843 2220 3889 2225 3920 2192 3945 2176 3984 2143 4022 2147 4065 2119 4110 2082 4142 2078 4170 2038 4195 2009 4244 1965 4251 1900 4279 1879 4286 1814 4325 1705 4364 1668 4353 1656 4353 1603 4336 1579 4353 1534 4346 1501 4318 1501 4293 1441 4272 1428 4265 1380 4293 1331 4304 1298 4315 1274 4311 1239 4315 1243 4374 1215 4381 1203 4350 1178 4367 1154 4367 1142 4339 1109 4329 1121 4283 1093 4276 1085 4227 1032 4237 1020 4205 1048 4160 1085 4128 1089 4051 1060 4040 1060 4012 1028 3998 971 3994 983 3973 963 3941 926 3960 890 3945 821 3980 784 4008 743 4021 723 3998 662 3973 593 4021 589 3984 536 3991 479 3970 455 3966 378 3913 374 3889 351 3896 325 3860 272 3815 248 3822 163 3741 146 3737 150 3674 167 3688 195 3681 201 3653 177 3632 183 3600 195 3588 232 3589 272 3554 215 3516 142 3519 89 3484 85 3455 61 3420 26 3410 37 3398 57 3404 65 3343 45 3330 26 3327Z"/>
<path id="hainan" class="prov" d="M1619 4480L1652 4438 1745 4424 1745 4452 1712 4490 1680 4529 1631 4515Z"/>
<path id="taiwan" class="prov" d="M2257 4072L2280 4114 2269 4184 2253 4258 2241 4241 2200 4184 2208 4135Z"/>
<path id="borders" class="bd" d="M272 3554L325 3570 349 3556 423 3576 496 3570 536 3554 601 3544 670 3571 699 3566 719 3576 752 3567 743 3538 768 3519 731 3487 735 3458 756 3449 837 3437 873 3426 894 3430
M691 3573L699 3600 674 3649 673 3674 711 3734 800 3765 849 3772 910 3783 947 3822 995 3829 1024 3776 1040 3755 1097 3744 1146 3751 1182 3783 1201 3784 1203 3762 1235 3758 1268 3758
M1024 3776L1072 3797 1101 3846 1089 3860 1105 3896 1109 3959 1121 4008 1154 3998 1162 4026 1186 4036 1235 4124 1274 4121 1302 4110 1298 4061 1331 4022 1347 3991 1367 3994 1376 4029 1412 4019 1416 4054 1335 4079 1339 4100 1380 4103 1371 4142 1388 4195 1441 4188 1510 4153 1550 4163 1611 4124 1632 4107 1627 4058 1607 4051 1627 4029 1611 4001 1587 3994 1558 3959 1522 3956 1489 3984 1441 3984 1465 4026 1416 4036
M1105 3959L1089 3984 1085 4012 1060 4012
M1380 4198L1461 4230 1465 4255 1428 4265
M1632 4107L1652 4110 1660 4100 1680 4100 1721 4093 1729 4142 1717 4156 1745 4174
M1611 4001L1611 3949 1631 3920 1672 3917 1668 3903 1701 3899 1761 3917 1810 3906 1826 3931 1843 3934
M1611 3949L1567 3892 1571 3885 1619 3878 1640 3860 1640 3825 1615 3811 1595 3810 1554 3790 1501 3787 1457 3772 1432 3765
M1615 3811L1607 3787 1632 3765 1607 3741 1672 3737
M1843 3934L1859 3966 1835 4015 1863 4065 1871 4124
M1843 3931L1908 3889 1948 3885
M2066 3956L2013 3980 1989 4026 1985 4065 1965 4124 1963 4142
M1652 3417L1632 3493 1644 3519 1635 3551 1640 3600 1640 3667
M1774 3350L1696 3369 1672 3407 1652 3413 1607 3423 1583 3468 1538 3515 1497 3509 1453 3484 1469 3452 1449 3433 1428 3445 1420 3500 1372 3528 1343 3535
M1774 3350L1786 3359 1774 3375 1790 3398 1770 3436 1757 3461 1786 3484 1770 3551 1782 3563
M1774 3350L1757 3305 1770 3264 1794 3264 1802 3286 1859 3257 1875 3257 1879 3232 1904 3219 1948 3279 1977 3283
M1973 3305L2017 3343
M2147 3136L2135 3158 2095 3177 2058 3193 2013 3248 1981 3222 1985 3270 1973 3305
M1843 3340L1875 3305 1912 3324 1908 3362 1887 3388 1863 3391 1835 3382 1835 3356Z
M1912 3359L1948 3394 1944 3426 1916 3429 1900 3423 1891 3382Z
M1948 3442L1900 3474 1871 3512 1851 3551 1863 3567
M2074 2989L2115 2983 2139 3021 2192 3012 2204 3021 2249 3018 2261 3040 2281 3040 2298 3059 2302 3034 2318 3034 2359 3078 2383 3047 2448 3059
M1948 2635L1944 2670 1969 2686 1993 2680 2009 2724 2046 2724 2082 2715 2095 2699 2131 2721 2119 2785 2125 2820 2115 2846 2087 2893 2046 2935 2074 2973 2074 3015
M2074 3015L2034 3021 2038 3034 2058 3043 2062 3078 2078 3101 2107 3088 2135 3130 2147 3136 2196 3145 2229 3190 2257 3228 2257 3248"/>
<path id="gansu" fill="#00b050" stroke="#2f7f4f" stroke-width="3" stroke-linejoin="round" d="M1016 3257L1052 3260 1056 3302 1056 3327 1089 3372 1109 3372 1121 3359 1170 3359 1182 3382 1158 3404 1178 3429 1198 3433 1203 3455 1267 3461 1290 3445 1306 3433 1343 3449 1339 3480 1327 3500 1343 3532 1372 3538 1404 3595 1404 3607 1428 3635 1461 3625 1473 3607 1454 3589 1462 3546 1489 3551 1550 3576 1554 3600 1546 3635 1506 3653 1469 3663 1457 3692 1465 3720 1436 3737 1432 3762 1396 3787 1371 3765 1347 3748 1335 3751 1300 3730 1274 3734 1263 3734 1235 3709 1201 3706 1211 3688 1247 3670 1272 3635 1274 3583 1267 3557 1219 3519 1162 3461 1133 3468 1085 3445 1028 3449 991 3464 959 3445 894 3430 886 3353 914 3324 959 3302 1008 3286Z"/>
<path id="henan" class="yl" d="M1782 3566L1778 3600 1740 3625 1640 3667 1676 3727 1676 3737 1721 3769 1810 3765 1835 3790 1863 3804 1887 3801 1916 3769 1916 3751 1900 3755 1863 3727 1883 3674 1916 3684 1928 3663 1912 3646 1863 3635 1843 3621 1861 3600 1861 3566 1826 3573Z"/>
<path id="anhui" class="yl" d="M1912 3642L1932 3621 1961 3642 1957 3656 1989 3670 2001 3692 2038 3730 2034 3755 2070 3787 2099 3794 2087 3829 2058 3882 2030 3889 2009 3882 1981 3889 1969 3875 1944 3885 1928 3825 1887 3801 1916 3769 1916 3751 1900 3755 1863 3727 1883 3674 1916 3684 1928 3663Z"/>
<path id="jiangsu" class="yl" d="M1961 3639L2030 3604 2026 3595 2046 3595 2086 3621 2139 3684 2192 3737 2160 3744 2176 3794 2156 3797 2099 3794 2070 3787 2034 3755 2038 3730 2001 3692 1989 3670 1957 3656Z"/>
<path id="zhejiang" class="yl" d="M2099 3794L2176 3797 2156 3825 2225 3843 2220 3868 2225 3920 2192 3945 2172 3980 2139 3977 2119 3984 2087 3952 2062 3938 2042 3903 2058 3882 2087 3829Z"/>
<path id="taihu" class="prov" style="stroke-width:2.6" d="M2107 3748L2123 3758 2143 3787 2123 3794 2111 3772Z"/>
<path id="guangdong" fill="#ff0000" stroke="#e03030" stroke-width="2" stroke-linejoin="round" d="M1778 4149L1826 4124 1900 4124 1887 4163 1948 4149 1965 4142 1997 4142 2042 4195 2009 4244 1965 4251 1900 4279 1871 4265 1879 4286 1814 4325 1705 4364 1692 4378 1717 4403 1696 4417 1672 4385 1668 4343 1696 4315 1717 4300 1749 4223 1770 4191Z"/>
<circle cx="773" cy="3364" r="2.2" fill="#5577ee"/><circle cx="773" cy="3832" r="2.2" fill="#5577ee"/><circle cx="1376" cy="3364" r="2.2" fill="#5577ee"/><circle cx="1373" cy="3832" r="2.2" fill="#5577ee"/>
<text class="pl" x="914" y="3394" textLength="138" lengthAdjust="spacing" style="font-size:41px">Gansu</text>
<text class="pl" x="1722" y="3713" textLength="125" lengthAdjust="spacing">Henan</text>
<text class="pl" x="1944" y="3822" textLength="110" lengthAdjust="spacing">Anhui</text>
<text class="pl" x="2042" y="3732" textLength="134" lengthAdjust="spacing">Jiangsu</text>
<text class="pl" x="2168" y="3787" textLength="170" lengthAdjust="spacing">Shanghai</text>
<text class="pl" x="2054" y="3910" textLength="167" lengthAdjust="spacing">Zhejiang</text>
<text class="pl" x="1792" y="4205" textLength="213" lengthAdjust="spacing" style="fill:#300">Guangdong</text>
<text class="num" x="966" y="3674" font-size="200" letter-spacing="8.5">III</text>
<text class="num" x="2179" y="3674" font-size="200">I</text>
<text class="num" x="1939" y="4445" font-size="198" letter-spacing="6">II</text>
</g>
<text id="caption-d" class="cap" x="1273" y="4656">(<tspan font-weight="700">d</tspan>)</text>
</g>
</svg>
